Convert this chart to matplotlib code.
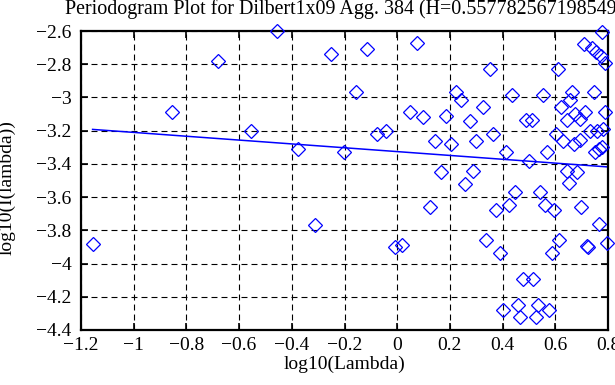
"""
Periodogram plot (log-log) com reta ajustada, estilo MATLAB.
"""
import matplotlib
matplotlib.use("Agg")
import matplotlib.pyplot as plt
from matplotlib.ticker import FuncFormatter

# frequencias (log10) e periodograma (log10)
log_lambda = [
    -1.156, -0.855, -0.679, -0.554, -0.457, -0.378, -0.311, -0.253, -0.202, -0.156,
    -0.115, -0.077, -0.042, -0.010, 0.020, 0.048, 0.074, 0.099, 0.123, 0.145,
    0.166, 0.187, 0.206, 0.224, 0.242, 0.259, 0.276, 0.289, 0.300, 0.324,
    0.336, 0.352, 0.362, 0.375, 0.390, 0.403, 0.413, 0.425, 0.436, 0.448,
    0.460, 0.466, 0.479, 0.489, 0.499, 0.510, 0.517, 0.527, 0.536, 0.543,
    0.552, 0.561, 0.570, 0.577, 0.587, 0.595, 0.603, 0.611, 0.615, 0.622,
    0.631, 0.643, 0.643, 0.652, 0.656, 0.664, 0.671, 0.675, 0.681, 0.693,
    0.695, 0.696, 0.710, 0.713, 0.719, 0.725, 0.732, 0.738, 0.748, 0.752,
    0.754, 0.757, 0.765, 0.766, 0.772, 0.776, 0.778, 0.780, 0.789, 0.789,
    0.795,
]
log_I = [
    -3.88, -3.09, -2.78, -3.20, -2.60, -3.31, -3.77, -2.74, -3.33, -2.97,
    -2.71, -3.22, -3.20, -3.90, -3.89, -3.09, -2.67, -3.12, -3.66, -3.26,
    -3.45, -3.11, -3.28, -2.965, -3.015, -3.52, -3.14, -3.44, -3.26, -3.06,
    -3.86, -2.83, -3.22, -3.68, -3.935, -4.28, -3.33, -3.65, -2.985, -3.57,
    -4.25, -4.32, -4.09, -3.136, -3.38, -3.136, -4.09, -4.32, -4.25, -3.57,
    -2.985, -3.65, -3.327, -4.28, -3.935, -3.68, -3.22, -2.83, -3.858, -3.056,
    -3.264, -3.136, -3.44, -3.515, -3.015, -2.965, -3.278, -3.10, -3.45, -3.254,
    -3.13, -3.658, -2.678, -3.086, -3.893, -3.903, -3.20, -2.704, -2.97, -3.33,
    -2.724, -3.204, -3.31, -3.764, -2.749, -2.608, -3.30, -3.19, -2.791, -3.086,
    -3.878,
]

H = 0.557782567198549
fit_slope = 1 - 2 * H
fit_intercept = -3.326

x_ticks = [-1.2, -1.0, -0.8, -0.6, -0.4, -0.2, 0.0, 0.2, 0.4, 0.6, 0.8]
y_ticks = [-4.4, -4.2, -4.0, -3.8, -3.6, -3.4, -3.2, -3.0, -2.8, -2.6]

plt.rcParams["font.family"] = ["Liberation Serif", "DejaVu Serif"]
plt.rcParams["lines.scale_dashes"] = False


def fmt(v, pos):
    s = f"{v:g}"
    if s == "-0":
        s = "0"
    return s.replace("-", "\u2212")


fig = plt.figure(figsize=(6.15, 3.85), dpi=100)
ax = fig.add_axes([81 / 615, 1 - 330 / 385, 527 / 615, 299 / 385])

ax.plot(log_lambda, log_I, linestyle="none", marker="D", ms=7,
        mfc="none", mec="#0000ff", mew=0.9, clip_on=False, zorder=3)
x0, x1 = log_lambda[0], log_lambda[-1]
ax.plot([x0, x1], [fit_intercept + fit_slope * x0, fit_intercept + fit_slope * x1],
        color="#0000ff", lw=1.1, zorder=2)

ax.set_xlim(-1.2, 0.8)
ax.set_ylim(-4.4, -2.6)
ax.set_xticks(x_ticks)
ax.set_yticks(y_ticks)
ax.xaxis.set_major_formatter(FuncFormatter(fmt))
ax.yaxis.set_major_formatter(FuncFormatter(fmt))
ax.tick_params(direction="in", length=5, width=1.2, top=True, right=True,
               labelsize=14, colors="black")
ax.tick_params(axis="x", pad=5)
ax.tick_params(axis="y", pad=7)
ax.grid(True, color="black", linestyle=(0, (4.3, 2.9)), lw=0.8)
for sp in ax.spines.values():
    sp.set_linewidth(1.6)

ax.set_xlabel("log10(Lambda)", fontsize=14, labelpad=1)
ax.set_ylabel("log10(I(lambda))", fontsize=14)
ax.yaxis.set_label_coords((16 - 81) / 527, 0.475)
ax.set_title(f"Periodogram Plot for Dilbert1x09 Agg. 384 (H={H:.15f})",
             fontsize=14.4, pad=12)

plt.savefig("out.png", dpi=100)
plt.close()
